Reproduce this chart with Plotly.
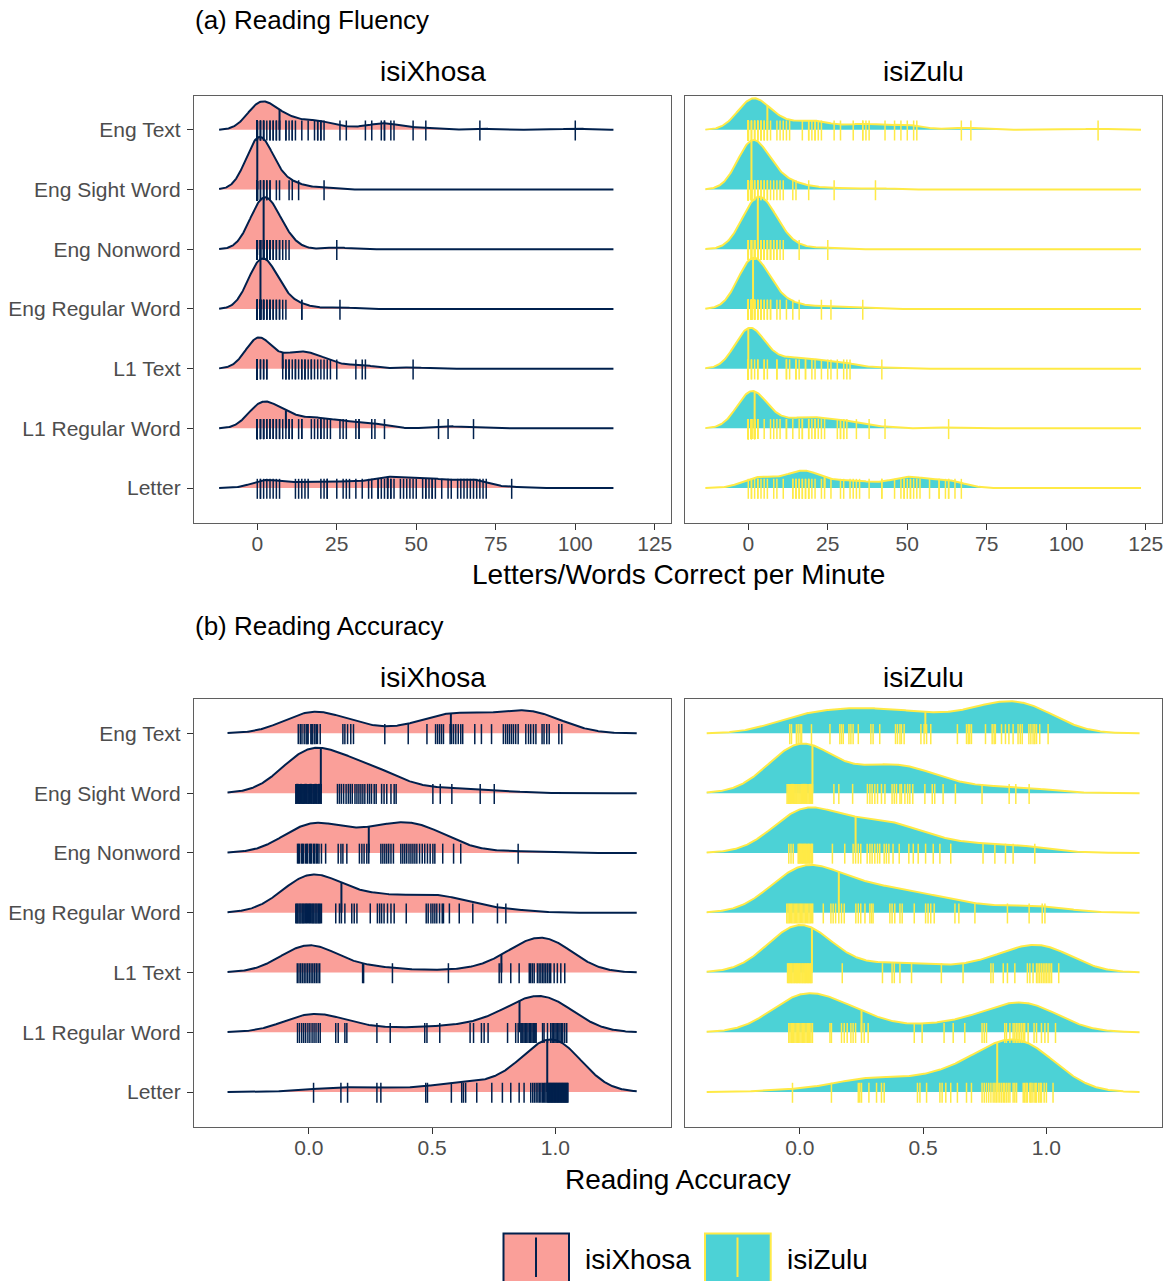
import numpy as np
import plotly.graph_objects as go

# ---------------- categories / labels ----------------
CATEGORIES = ["Eng Text", "Eng Sight Word", "Eng Nonword", "Eng Regular Word",
              "L1 Text", "L1 Regular Word", "Letter"]
LANGUAGES = ["isiXhosa", "isiZulu"]
FLU_TICKS = [0, 25, 50, 75, 100, 125]
ACC_TICKS = [0.0, 0.5, 1.0]
ACC_TICK_LABELS = ["0.0", "0.5", "1.0"]

# ---------------- (a) Reading fluency: isiXhosa ----------------
flu_xh_eng_text = [0, 0, 0, 0, 0, 0, 0, 0, 0, 0, 0, 0, 0, 1, 1, 1, 2, 2, 2, 3, 4, 4, 5, 5, 6, 6, 7, 7,
                   9, 9, 10, 11, 11, 12, 14, 16, 18, 19, 19, 20, 20, 21, 26, 28, 34, 36, 39, 40, 40, 42,
                   43, 49, 53, 70, 100]
flu_xh_eng_sight = [0, 0, 0, 0, 0, 0, 0, 0, 0, 0, 0, 0, 0, 0, 0, 0, 0, 0, 0, 0, 0, 0,
                    1, 1, 2, 2, 2, 3, 3, 4, 4, 6, 7, 10, 11, 13, 21]
flu_xh_eng_nonword = [0, 0, 0, 0, 0, 0, 0, 0, 1, 1, 1, 1, 1, 1, 2, 2, 2, 2, 2, 2, 3, 3, 3, 3, 3,
                      4, 4, 4, 4, 5, 5, 6, 6, 7, 7, 8, 9, 10, 25]
flu_xh_eng_regular = [0, 0, 0, 0, 0, 0, 0, 0, 0, 0, 0, 0, 1, 1, 1, 1, 1, 1, 1, 1, 1, 1, 2, 2, 2, 2,
                      3, 3, 3, 4, 4, 4, 5, 5, 6, 6, 7, 7, 8, 9, 14, 14, 26]
flu_xh_l1_text = [0, 0, 0, 0, 0, 0, 0, 0, 0, 0, 0, 0, 0, 0, 0, 0, 0, 0, 0, 0, 1, 1, 2, 2, 3, 3, 8,
                  9, 9, 10, 10, 11, 12, 12, 13, 14, 14, 15, 15, 16, 17, 17, 18, 19, 20, 21, 22, 23,
                  25, 31, 33, 34, 49]
flu_xh_l1_regular = [0, 0, 0, 0, 0, 0, 0, 0, 0, 0, 1, 1, 1, 2, 2, 2, 3, 3, 4, 4, 5, 5, 6, 6, 7, 7, 8, 9,
                     10, 10, 11, 11, 13, 14, 14, 17, 18, 19, 20, 20, 21, 22, 23, 26, 27, 28, 31, 32,
                     32, 36, 37, 40, 57, 60, 68]
flu_xh_letter = [0, 1, 1, 2, 3, 4, 5, 6, 7, 12, 13, 14, 15, 16, 20, 21, 22, 22, 25, 27, 28, 29, 31, 33,
                 35, 36, 38, 38, 39, 40, 41, 41, 42, 42, 43, 45, 46, 47, 48, 49, 50, 52, 53, 53, 54,
                 55, 55, 56, 58, 60, 61, 63, 64, 65, 66, 67, 68, 69, 70, 71, 72, 80]

# ---------------- (a) Reading fluency: isiZulu ----------------
flu_zu_eng_text = [0, 0, 0, 0, 0, 0, 0, 0, 0, 0, 0, 0, 0, 0, 0, 1, 1, 1, 2, 2, 2, 3, 3, 3, 4, 4, 4,
                   5, 5, 6, 6, 7, 9, 10, 11, 12, 13, 17, 19, 19, 20, 21, 21, 22, 23, 27, 29, 33, 36,
                   36, 37, 38, 43, 46, 48, 50, 52, 53, 67, 70, 110]
flu_zu_eng_sight = [0, 0, 0, 0, 0, 0, 0, 0, 0, 0, 0, 0, 0, 0, 1, 1, 1, 1, 1, 1, 1, 1, 1, 1,
                    2, 2, 2, 3, 3, 3, 4, 4, 5, 5, 6, 6, 7, 8, 9, 10, 11, 14, 15, 19, 27, 40]
flu_zu_eng_nonword = [0, 0, 0, 0, 0, 1, 1, 1, 1, 1, 1, 2, 2, 2, 2, 2, 2, 2, 3, 3, 3, 3, 3, 3,
                      4, 4, 4, 4, 4, 5, 5, 5, 5, 6, 6, 6, 7, 7, 7, 8, 8, 9, 9, 10, 11, 16, 25]
flu_zu_eng_regular = [0, 0, 0, 0, 0, 0, 0, 0, 0, 0, 0, 0, 0, 0, 1, 1, 1, 1, 1, 1, 1, 1, 1, 1, 1, 1,
                      2, 2, 2, 2, 2, 3, 3, 3, 3, 4, 4, 4, 5, 5, 6, 6, 7, 7, 9, 10, 12, 14, 16, 23, 26, 36]
flu_zu_l1_text = [0, 0, 0, 0, 0, 0, 0, 0, 0, 0, 0, 0, 0, 0, 0, 0, 0, 0, 0, 0, 0, 0, 0, 0, 0, 0, 0,
                  0, 0, 1, 1, 2, 3, 3, 5, 5, 6, 9, 9, 12, 12, 13, 15, 15, 16, 18, 18, 20, 21, 23, 25,
                  26, 28, 30, 31, 32, 42]
flu_zu_l1_regular = [0, 0, 0, 0, 0, 0, 0, 0, 0, 0, 0, 0, 0, 0, 0, 1, 1, 1, 1, 1, 1, 1, 1, 1, 1,
                     2, 2, 2, 2, 2, 2, 2, 2, 3, 3, 3, 5, 7, 8, 9, 10, 12, 12, 14, 16, 17, 17, 19, 19,
                     20, 21, 21, 22, 23, 24, 28, 29, 29, 30, 30, 31, 34, 38, 43, 63]
flu_zu_letter = [0, 1, 1, 2, 3, 3, 4, 5, 6, 8, 9, 11, 14, 14, 15, 15, 16, 16, 17, 17, 18, 18, 19, 19,
                 19, 20, 21, 23, 24, 26, 29, 30, 32, 33, 34, 35, 38, 42, 42, 46, 48, 49, 49, 50, 51,
                 51, 52, 53, 54, 57, 60, 60, 62, 63, 63, 65, 67]

# ---------------- (b) Reading accuracy: isiXhosa ----------------
acc_xh_eng_text = [-0.043, -0.035, -0.028, -0.019, -0.011, -0.007, -0.003, 0.008, 0.012, 0.016, 0.024,
                   0.030, 0.035, 0.046, 0.138, 0.146, 0.157, 0.170, 0.181, 0.308, 0.403, 0.479, 0.514,
                   0.522, 0.530, 0.538, 0.546, 0.573, 0.579, 0.587, 0.596, 0.606, 0.616, 0.624, 0.673,
                   0.700, 0.741, 0.789, 0.798, 0.806, 0.814, 0.822, 0.830, 0.839, 0.849, 0.880, 0.891,
                   0.900, 0.911, 0.921, 0.946, 0.954, 0.965, 0.975, 1.014, 1.026]
acc_xh_eng_sight = [-0.053, -0.050, -0.047, -0.043, -0.040, -0.037, -0.033, -0.030, -0.027, -0.023,
                    -0.020, -0.017, -0.013, -0.010, -0.007, -0.003, 0.000, 0.003, 0.007, 0.010, 0.013,
                    0.017, 0.020, 0.023, 0.027, 0.030, 0.033, 0.037, 0.040, 0.043, 0.047, 0.050,
                    0.116, 0.124, 0.132, 0.141, 0.151, 0.160, 0.168, 0.176, 0.187, 0.195, 0.203, 0.211,
                    0.219, 0.227, 0.238, 0.246, 0.254, 0.265, 0.273, 0.295, 0.305, 0.316, 0.333, 0.346,
                    0.354, 0.503, 0.533, 0.580, 0.695, 0.752]
acc_xh_eng_nonword = [-0.046, -0.042, -0.038, -0.030, -0.026, -0.022, -0.014, -0.009, -0.005, 0.003,
                      0.007, 0.011, 0.019, 0.023, 0.030, 0.035, 0.041, 0.051, 0.068, 0.119, 0.130,
                      0.138, 0.154, 0.205, 0.215, 0.224, 0.235, 0.243, 0.292, 0.300, 0.308, 0.316,
                      0.324, 0.333, 0.343, 0.373, 0.381, 0.389, 0.397, 0.406, 0.414, 0.422, 0.430,
                      0.438, 0.449, 0.460, 0.470, 0.481, 0.492, 0.503, 0.511, 0.543, 0.587, 0.616, 0.849]
acc_xh_eng_regular = [-0.053, -0.049, -0.045, -0.040, -0.036, -0.032, -0.027, -0.023, -0.019, -0.014,
                      -0.010, -0.006, -0.001, 0.003, 0.007, 0.012, 0.016, 0.020, 0.025, 0.029, 0.033,
                      0.038, 0.042, 0.046, 0.051, 0.109, 0.124, 0.132, 0.146, 0.174, 0.184, 0.195,
                      0.249, 0.278, 0.287, 0.295, 0.305, 0.319, 0.333, 0.346, 0.395, 0.476, 0.484,
                      0.495, 0.503, 0.511, 0.519, 0.530, 0.541, 0.546, 0.570, 0.610, 0.665, 0.765, 0.799]
acc_xh_l1_text = [-0.047, -0.040, -0.033, -0.026, -0.019, -0.012, -0.005, 0.002, 0.009, 0.016, 0.023,
                  0.030, 0.037, 0.044, 0.218, 0.222, 0.339, 0.566, 0.772, 0.781, 0.819, 0.853, 0.894,
                  0.900, 0.907, 0.914, 0.927, 0.934, 0.941, 0.948, 0.954, 0.961, 0.968, 0.975, 0.981,
                  0.995, 1.008, 1.022, 1.038]
acc_xh_l1_regular = [-0.046, -0.038, -0.029, -0.021, -0.013, -0.004, 0.004, 0.013, 0.021, 0.029,
                     0.038, 0.046, 0.109, 0.119, 0.146, 0.154, 0.276, 0.330, 0.470, 0.479, 0.531,
                     0.654, 0.668, 0.700, 0.711, 0.727, 0.806, 0.839, 0.849, 0.860, 0.864, 0.868,
                     0.873, 0.878, 0.884, 0.889, 0.895, 0.900, 0.905, 0.910, 0.914, 0.918, 0.922,
                     0.948, 0.954, 0.968, 0.981, 0.987, 0.992, 0.998, 1.003, 1.008, 1.014, 1.019,
                     1.025, 1.030, 1.038, 1.046]
acc_xh_letter = [0.019, 0.130, 0.157, 0.276, 0.292, 0.474, 0.481, 0.578, 0.620, 0.627, 0.636, 0.681,
                 0.742, 0.785, 0.819, 0.853, 0.873, 0.900, 0.908, 0.915, 0.922, 0.929, 0.935, 0.941,
                 0.947, 0.952, 0.957, 0.962, 0.967, 0.970, 0.973, 0.976, 0.979, 0.982, 0.985, 0.988,
                 0.991, 0.994, 0.997, 1.000, 1.003, 1.006, 1.009, 1.012, 1.015, 1.018, 1.021, 1.024,
                 1.027, 1.030, 1.033, 1.036, 1.039, 1.042, 1.045, 1.048, 1.051]

# ---------------- (b) Reading accuracy: isiZulu ----------------
acc_zu_eng_text = [-0.041, -0.034, -0.014, -0.007, 0.001, 0.007, 0.047, 0.122, 0.162, 0.169, 0.176,
                   0.199, 0.207, 0.216, 0.237, 0.288, 0.297, 0.324, 0.388, 0.396, 0.406, 0.412, 0.423,
                   0.491, 0.504, 0.514, 0.531, 0.639, 0.676, 0.683, 0.689, 0.696, 0.753, 0.780, 0.788,
                   0.793, 0.818, 0.834, 0.848, 0.865, 0.885, 0.894, 0.902, 0.929, 0.937, 0.946, 0.953,
                   0.960, 0.973, 1.007]
acc_zu_eng_sight = [-0.052, -0.048, -0.045, -0.041, -0.037, -0.034, -0.030, -0.026, -0.023, -0.019,
                    -0.015, -0.012, -0.008, -0.004, 0.000, 0.004, 0.007, 0.011, 0.015, 0.018, 0.022,
                    0.026, 0.029, 0.033, 0.037, 0.040, 0.044, 0.048, 0.051, 0.138, 0.158, 0.214,
                    0.274, 0.284, 0.293, 0.304, 0.315, 0.331, 0.345, 0.374, 0.383, 0.392, 0.406,
                    0.412, 0.426, 0.437, 0.446, 0.458, 0.507, 0.537, 0.547, 0.581, 0.631, 0.739,
                    0.849, 0.876, 0.930]
acc_zu_eng_nonword = [-0.045, -0.036, -0.027, -0.007, -0.004, -0.001, 0.002, 0.006, 0.009, 0.012,
                      0.015, 0.019, 0.022, 0.025, 0.028, 0.032, 0.035, 0.038, 0.041, 0.045, 0.048,
                      0.051, 0.132, 0.182, 0.216, 0.226, 0.237, 0.247, 0.273, 0.284, 0.293, 0.304,
                      0.315, 0.324, 0.342, 0.351, 0.361, 0.378, 0.403, 0.442, 0.460, 0.480, 0.510,
                      0.541, 0.568, 0.612, 0.743, 0.791, 0.834, 0.865, 0.953]
acc_zu_eng_regular = [-0.053, -0.048, -0.043, -0.038, -0.033, -0.028, -0.023, -0.018, -0.013, -0.008,
                      -0.003, 0.002, 0.007, 0.012, 0.017, 0.022, 0.027, 0.032, 0.037, 0.042, 0.047,
                      0.052, 0.095, 0.126, 0.135, 0.145, 0.158, 0.169, 0.180, 0.227, 0.237, 0.247,
                      0.264, 0.284, 0.291, 0.297, 0.365, 0.374, 0.385, 0.406, 0.415, 0.464, 0.510,
                      0.520, 0.531, 0.545, 0.629, 0.645, 0.710, 0.842, 0.930, 0.983, 0.994]
acc_zu_l1_text = [-0.050, -0.046, -0.043, -0.039, -0.035, -0.032, -0.028, -0.024, -0.021, -0.017,
                  -0.013, -0.010, -0.006, -0.002, 0.001, 0.005, 0.009, 0.012, 0.016, 0.020, 0.023,
                  0.027, 0.031, 0.034, 0.038, 0.042, 0.045, 0.049, 0.172, 0.335, 0.374, 0.383, 0.406,
                  0.453, 0.574, 0.662, 0.775, 0.784, 0.825, 0.842, 0.872, 0.923, 0.933, 0.946, 0.960,
                  0.966, 0.973, 0.980, 0.987, 0.994, 1.000, 1.007, 1.014, 1.021, 1.050]
acc_zu_l1_regular = [-0.045, -0.040, -0.035, -0.030, -0.025, -0.020, -0.015, -0.010, -0.005, 0.000,
                     0.005, 0.010, 0.015, 0.020, 0.025, 0.030, 0.035, 0.040, 0.045, 0.051, 0.122,
                     0.128, 0.169, 0.180, 0.192, 0.207, 0.216, 0.226, 0.250, 0.261, 0.277, 0.464,
                     0.496, 0.585, 0.622, 0.669, 0.739, 0.748, 0.757, 0.831, 0.838, 0.852, 0.865,
                     0.872, 0.879, 0.885, 0.892, 0.899, 0.906, 0.912, 0.926, 0.950, 0.960, 0.980,
                     0.994, 1.007, 1.037]
acc_zu_letter = [-0.030, 0.128, 0.237, 0.243, 0.250, 0.280, 0.311, 0.331, 0.342, 0.477, 0.487, 0.514,
                 0.568, 0.577, 0.592, 0.612, 0.639, 0.676, 0.696, 0.739, 0.748, 0.757, 0.766, 0.775,
                 0.784, 0.791, 0.797, 0.804, 0.811, 0.818, 0.825, 0.831, 0.838, 0.845, 0.852, 0.865,
                 0.872, 0.879, 0.906, 0.912, 0.918, 0.923, 0.933, 0.937, 0.942, 0.950, 0.956, 0.960,
                 0.969, 0.975, 0.980, 0.991, 1.000, 1.027]

FLUENCY = {
    "isiXhosa": [flu_xh_eng_text, flu_xh_eng_sight, flu_xh_eng_nonword, flu_xh_eng_regular,
                 flu_xh_l1_text, flu_xh_l1_regular, flu_xh_letter],
    "isiZulu": [flu_zu_eng_text, flu_zu_eng_sight, flu_zu_eng_nonword, flu_zu_eng_regular,
                flu_zu_l1_text, flu_zu_l1_regular, flu_zu_letter],
}
ACCURACY = {
    "isiXhosa": [acc_xh_eng_text, acc_xh_eng_sight, acc_xh_eng_nonword, acc_xh_eng_regular,
                 acc_xh_l1_text, acc_xh_l1_regular, acc_xh_letter],
    "isiZulu": [acc_zu_eng_text, acc_zu_eng_sight, acc_zu_eng_nonword, acc_zu_eng_regular,
                acc_zu_l1_text, acc_zu_l1_regular, acc_zu_letter],
}

# density settings (joint bandwidth per facet, score bounds of the measure)
BANDWIDTH = {("a", "isiXhosa"): 4.0, ("a", "isiZulu"): 4.5,
             ("b", "isiXhosa"): 0.11, ("b", "isiZulu"): 0.126}
SCORE_BOUNDS = {("a", "isiXhosa"): (0, 100), ("a", "isiZulu"): (0, 110),
                ("b", "isiXhosa"): (0, 1), ("b", "isiZulu"): (0, 1)}

# ---------------- styling / geometry ----------------
W, H = 1169, 1281
FONT = "Liberation Sans, Arial, sans-serif"
FILL = {"isiXhosa": "rgba(248,118,109,0.7)", "isiZulu": "rgba(0,191,196,0.7)"}
LINE = {"isiXhosa": "#00204D", "isiZulu": "#FFEA46"}
RIDGE_MAX = 0.88
RUG_LO, RUG_HI = 0.18, 0.155
XDOM = {"isiXhosa": (194, 671), "isiZulu": (685, 1162)}
YDOM = {"a": (95.5, 523), "b": (699, 1127)}
XRANGE = {"a": [-19.9, 130.1], "b": [-0.466, 1.469]}
YRANGE = [0.415, 7.575]


def px(x):
    return x / W


def py(y):
    return 1 - y / H


def kde(values, grid, bw):
    v = np.asarray(values, dtype=float)[:, None]
    z = (grid[None, :] - v) / bw
    return np.exp(-0.5 * z * z).sum(axis=0) / (len(values) * bw * np.sqrt(2 * np.pi))


fig = go.Figure()
layout_axes = {}
axis_index = 0
for panel, data in (("a", FLUENCY), ("b", ACCURACY)):
    for lang in LANGUAGES:
        axis_index += 1
        xa = "x" if axis_index == 1 else f"x{axis_index}"
        ya = "y" if axis_index == 1 else f"y{axis_index}"
        bw = BANDWIDTH[(panel, lang)]
        lo, hi = SCORE_BOUNDS[(panel, lang)]
        grid = np.linspace(lo - 3 * bw, hi + 3 * bw, 600)
        series = data[lang]
        dens = [kde(s, grid, bw) for s in series]
        scale = RIDGE_MAX / max(d.max() for d in dens)
        rows = [len(CATEGORIES) - i for i in range(len(CATEGORIES))]

        # ridges (top row drawn first)
        for s, d, r in zip(series, dens, rows):
            top = r + d * scale
            fig.add_trace(go.Scatter(
                x=np.concatenate([grid, grid[::-1]]),
                y=np.concatenate([top, np.full_like(grid, r)]),
                xaxis=xa, yaxis=ya, mode="lines", fill="toself",
                fillcolor=FILL[lang], line=dict(width=0), hoverinfo="skip", showlegend=False))
            fig.add_trace(go.Scatter(
                x=grid, y=top, xaxis=xa, yaxis=ya, mode="lines",
                line=dict(color=LINE[lang], width=2), hoverinfo="skip", showlegend=False))
        # median lines and rugs on top
        for s, d, r in zip(series, dens, rows):
            med = float(np.median(s))
            dm = float(np.interp(med, grid, d))
            fig.add_trace(go.Scatter(
                x=[med, med], y=[r, r + dm * scale], xaxis=xa, yaxis=ya, mode="lines",
                line=dict(color=LINE[lang], width=2), hoverinfo="skip", showlegend=False))
            rx, ry = [], []
            for v in s:
                rx += [v, v, None]
                ry += [r - RUG_LO, r + RUG_HI, None]
            fig.add_trace(go.Scatter(
                x=rx, y=ry, xaxis=xa, yaxis=ya, mode="lines",
                line=dict(color=LINE[lang], width=1.5), hoverinfo="skip", showlegend=False))

        ticks = FLU_TICKS if panel == "a" else ACC_TICKS
        ticktext = [str(t) for t in FLU_TICKS] if panel == "a" else ACC_TICK_LABELS
        xkey = "xaxis" if axis_index == 1 else f"xaxis{axis_index}"
        ykey = "yaxis" if axis_index == 1 else f"yaxis{axis_index}"
        layout_axes[xkey] = dict(
            domain=[px(XDOM[lang][0]), px(XDOM[lang][1])], anchor=ya,
            range=XRANGE[panel], tickvals=ticks, ticktext=ticktext,
            showgrid=False, zeroline=False, showline=True, mirror=True,
            linecolor="#5f5f5f", linewidth=1.2, ticks="outside", ticklen=6,
            tickcolor="#333333", tickwidth=1.2, ticklabelstandoff=-4,
            tickfont=dict(family=FONT, size=21, color="#4D4D4D"))
        first = lang == "isiXhosa"
        layout_axes[ykey] = dict(
            domain=[py(YDOM[panel][1]), py(YDOM[panel][0])], anchor=xa,
            range=YRANGE, tickvals=rows, ticktext=CATEGORIES,
            showticklabels=first, ticks="outside" if first else "", ticklen=6,
            tickcolor="#333333", tickwidth=1.2, ticklabelstandoff=2,
            showgrid=False, zeroline=False, showline=True, mirror=True,
            linecolor="#5f5f5f", linewidth=1.2,
            tickfont=dict(family=FONT, size=21, color="#4D4D4D"))

annotations = []


def text(x, y, s, size, anchor="center", color="black"):
    annotations.append(dict(x=px(x), y=py(y), xref="paper", yref="paper", text=s,
                            showarrow=False, xanchor=anchor, yanchor="middle",
                            font=dict(family=FONT, size=size, color=color)))


text(193, 20, "(a) Reading Fluency", 26, "left")
text(193, 626, "(b) Reading Accuracy", 26, "left")
for yy in (72, 677):
    text(432.5, yy, "isiXhosa", 28)
    text(923.5, yy, "isiZulu", 28)
text(678, 574, "Letters/Words Correct per Minute", 28)
text(678, 1179, "Reading Accuracy", 28)
text(583, 1259, "isiXhosa", 28, "left")
text(785, 1259, "isiZulu", 28, "left")

shapes = []
for lang, (x0, x1, xm) in (("isiXhosa", (503.5, 569, 536)), ("isiZulu", (705, 770.7, 737.5))):
    shapes.append(dict(type="rect", xref="paper", yref="paper", x0=px(x0), x1=px(x1),
                       y0=py(1290), y1=py(1233.5), fillcolor=FILL[lang],
                       line=dict(color=LINE[lang], width=2)))
    shapes.append(dict(type="line", xref="paper", yref="paper", x0=px(xm), x1=px(xm),
                       y0=py(1277), y1=py(1237.5), line=dict(color=LINE[lang], width=2)))

fig.update_layout(width=W, height=H, margin=dict(l=0, r=0, t=0, b=0),
                  paper_bgcolor="white", plot_bgcolor="white", showlegend=False,
                  annotations=annotations, shapes=shapes, **layout_axes)

fig.write_html("out.html", config={"displayModeBar": False})
with open("out.html", "r", encoding="utf-8") as f:
    html = f.read()
html = html.replace("<body>", '<body style="margin:0;padding:0;overflow:hidden">', 1)
with open("out.html", "w", encoding="utf-8") as f:
    f.write(html)
